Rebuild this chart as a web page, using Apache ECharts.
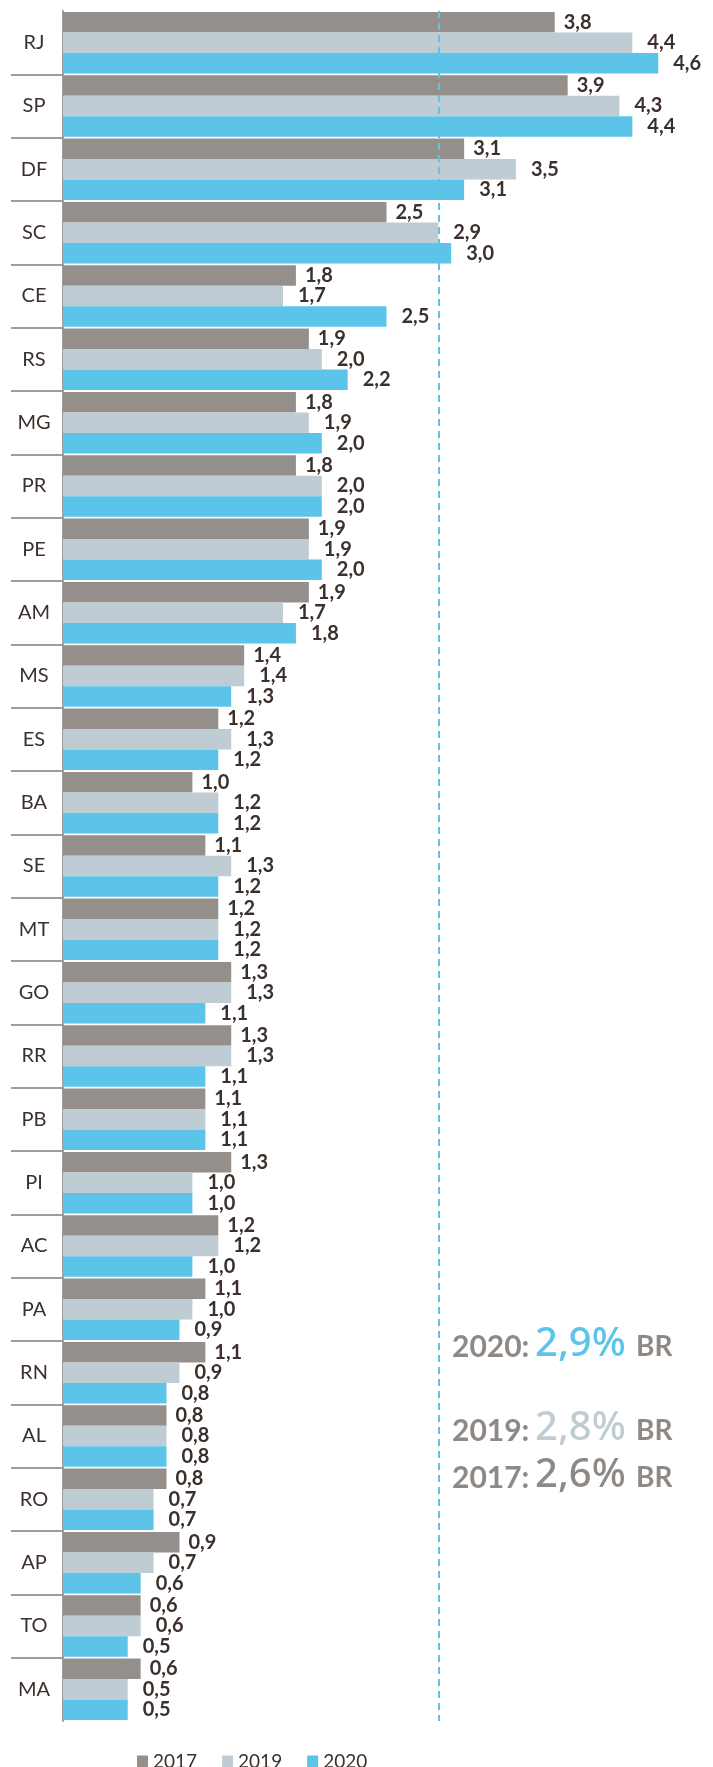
<!DOCTYPE html>
<html>
<head>
<meta charset="utf-8">
<script src="https://cdn.jsdelivr.net/npm/echarts@6/dist/echarts.min.js"></script>
<style>
  html, body { margin: 0; padding: 0; background: #fff; }
  #chart { width: 713px; height: 1767px; }
</style>
</head>
<body>
<div id="chart"></div>
<script>
// estados, de cima para baixo
const states = ['RJ', 'SP', 'DF', 'SC', 'CE', 'RS', 'MG', 'PR', 'PE', 'AM', 'MS', 'ES', 'BA', 'SE',
  'MT', 'GO', 'RR', 'PB', 'PI', 'AC', 'PA', 'RN', 'AL', 'RO', 'AP', 'TO', 'MA']

const years = ['2017', '2019', '2020']

const values2017 = [3.8, 3.9, 3.1, 2.5, 1.8, 1.9, 1.8, 1.8, 1.9, 1.9, 1.4, 1.2, 1.0, 1.1,
  1.2, 1.3, 1.3, 1.1, 1.3, 1.2, 1.1, 1.1, 0.8, 0.8, 0.9, 0.6, 0.6]
const values2019 = [4.4, 4.3, 3.5, 2.9, 1.7, 2.0, 1.9, 2.0, 1.9, 1.7, 1.4, 1.3, 1.2, 1.3,
  1.2, 1.3, 1.3, 1.1, 1.0, 1.2, 1.0, 0.9, 0.8, 0.7, 0.7, 0.6, 0.5]
const values2020 = [4.6, 4.4, 3.1, 3.0, 2.5, 2.2, 2.0, 2.0, 2.0, 1.8, 1.3, 1.2, 1.2, 1.2,
  1.2, 1.1, 1.1, 1.1, 1.0, 1.0, 0.9, 0.8, 0.8, 0.7, 0.6, 0.5, 0.5]

// média Brasil
const brYears = ['2020', '2019', '2017']
const brValues = [2.9, 2.8, 2.6]

const colors = { '2017': '#958f8c', '2019': '#bfccd4', '2020': '#5bc4e8' }
const textDark = '#3b302c'
const textGray = '#8f8985'
const fontFamily = 'Lato, "Noto Sans", sans-serif'

const fmt = v => v.toFixed(1).replace('.', ',')

const chart = echarts.init(document.getElementById('chart'), null, { renderer: 'canvas' })

function barSeries(name, data, dist) {
  return {
    name,
    type: 'bar',
    data,
    yAxisIndex: 0,
    barGap: '0%',
    barCategoryGap: '3%',
    itemStyle: { color: colors[name] },
    label: {
      show: true,
      position: 'right',
      distance: dist,
      formatter: p => fmt(p.value),
      fontFamily,
      fontSize: 20,
      fontWeight: 'bold',
      color: textDark
    }
  }
}

const series = [
  barSeries('2017', values2017, 9),
  barSeries('2019', values2019, 15),
  barSeries('2020', values2020, 15)
]

// linha tracejada = média BR 2020
series[2].markLine = {
  silent: true,
  symbol: 'none',
  label: { show: false },
  lineStyle: { color: '#5bc5e8', width: 2, type: [7, 5] },
  data: [{ xAxis: brValues[0] }]
}

// textos da média BR
const brColors = [colors['2020'], colors['2019'], '#8f8985']
const rowY = [1349, 1433, 1480]
const graphic = []
brYears.forEach((y, i) => {
  graphic.push({
    type: 'text', left: 452, top: rowY[i] - 17,
    style: { text: y + ':', fontFamily, fontSize: 30, fontWeight: 'bold', fill: textGray }
  })
  graphic.push({
    type: 'text', left: 535, top: rowY[i] - 24,
    style: { text: fmt(brValues[i]) + '%', fontFamily: '"Noto Sans", Lato, sans-serif', fontSize: 40, fontWeight: 500, fill: brColors[i] }
  })
  graphic.push({
    type: 'text', left: 636, top: rowY[i] - 16,
    style: { text: 'BR', fontFamily, fontSize: 28, fontWeight: 'bold', fill: textGray }
  })
})

chart.setOption({
  animation: false,
  backgroundColor: '#fff',
  grid: { left: 63, right: 3, top: 11, bottom: 46 },
  legend: {
    data: years,
    left: 132,
    top: 1747,
    icon: 'rect',
    itemWidth: 11,
    itemHeight: 12,
    itemGap: 25,
    textStyle: { fontFamily, fontSize: 19, color: textDark }
  },
  xAxis: { type: 'value', min: 0, max: 5, show: false },
  yAxis: [
    {
      type: 'category',
      data: states,
      inverse: true,
      axisLine: { show: false },
      axisTick: { show: false },
      axisLabel: {
        margin: 29,
        align: 'center',
        fontFamily,
        fontSize: 20,
        color: textDark
      }
    },
    {
      // eixo auxiliar só para os separadores entre estados
      type: 'category',
      position: 'left',
      boundaryGap: false,
      data: Array.from({ length: states.length + 1 }, (_, i) => i),
      axisLine: { show: true, lineStyle: { color: '#a29c99', width: 2 } },
      axisTick: {
        show: true,
        length: 52,
        interval: i => i > 0 && i < states.length,
        lineStyle: { color: '#a29c99', width: 2 }
      },
      axisLabel: { show: false },
      splitLine: { show: false }
    }
  ],
  graphic,
  series
})
</script>
</body>
</html>
